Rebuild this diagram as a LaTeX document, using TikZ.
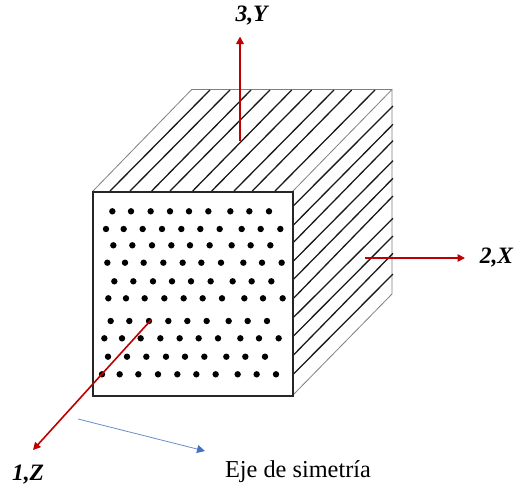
\documentclass[tikz,border=0pt]{standalone}
\usepackage{fontspec}
\setmainfont{Liberation Serif}
\usetikzlibrary{arrows.meta}
\definecolor{axisred}{RGB}{192,0,0}
\definecolor{symblue}{RGB}{68,114,196}
\definecolor{symline}{RGB}{110,140,200}
\tikzset{
  hatch/.style={black!90,line width=1.3pt},
  edgeline/.style={black!50,line width=0.8pt},
  frontface/.style={draw=black!85,line width=2pt},
  axisarrow/.style={axisred,line width=1.6pt,-{Triangle[length=7.5pt,width=7.5pt]}},
  symarrow/.style={symline,line width=0.8pt,-{Triangle[length=8pt,width=8pt,color=symblue]}},
  axislabel/.style={font=\fontsize{23.5}{26}\selectfont\bfseries\itshape,inner sep=0pt,anchor=base},
  plainlabel/.style={font=\fontsize{24.3}{28}\selectfont,inner sep=0pt,anchor=base},
  fibre/.style={fill=black,draw=none,circle,minimum size=6.4pt,inner sep=0pt}
}
\begin{document}
\begin{tikzpicture}[x=1pt,y=-1pt]
\useasboundingbox (0,0) rectangle (514,488);
\fill[white] (0,0) rectangle (514,488);
% cube outline
\coordinate (ftl) at (92.5,191.5);
\coordinate (ftr) at (292.5,191.5);
\coordinate (fbr) at (292.5,395.5);
\coordinate (btl) at (191.7,89.5);
\coordinate (btr) at (392,89.5);
\coordinate (bbr) at (392,294);
\draw[edgeline] (ftl) -- (btl) -- (btr) -- (bbr) -- (fbr);
\draw[edgeline] (ftr) -- (btr);
% top hatch
\foreach \a/\b in {110/210,130/230,151.7/251,170/270,192.7/291.7,211.7/311.7,234/334,252.3/351.7,275/375}{
  \draw[hatch] (\a,191) -- (\b,90);
}
% side hatch
\foreach \a/\b in {205.7/106,225/124.3,242.3/140.7,261/160.7,279.3/178.3,298.3/196,317.3/218.3,336/236,355/253.3,374/274}{
  \draw[hatch] (293.5,\a) -- (393,\b);
}
% front face
\draw[frontface] (ftl) rectangle (fbr);
% fibres
\foreach \yy/\xs in {
 211.3/{82,138,197,255,312,370,436,493,552},
 229/{63,116,173,231,289,346,404,470,527,586},
 245.3/{85,142,201,259,315,374,440,497,556},
 262.7/{67,120,176,235,293,349,408,475,531,590},
 281.3/{88,145,204,261,318,377,443,500,559},
 298.3/{70,123,179,238,296,353,411,478,534,593},
 321/{77,133,192,250,307,365,431,488,546},
 338.3/{58,111,167,226,284,341,399,466,522,581},
 356.7/{69,126,184,243,300,358,424,481,540},
 374.3/{51,104,160,219,277,334,392,458,515,573}}{
  \foreach \xx in \xs {
    \node[fibre] at ({85+\xx/3},\yy) {};
  }
}
% axes
\coordinate (yfrom) at (240,141);
\coordinate (yto) at (240,36.5);
\coordinate (xfrom) at (365,258);
\coordinate (xto) at (465,258);
\coordinate (zfrom) at (151,320);
\coordinate (zto) at (33,450);
\coordinate (sfrom) at (78,419);
\coordinate (sto) at (205,451);
\draw[axisarrow] (yfrom) -- (yto);
\draw[axisarrow] (xfrom) -- (xto);
\draw[axisarrow] (zfrom) -- (zto);
\draw[symarrow] (sfrom) -- (sto);
\node[axislabel] (ylab) at (251.5,21.5) {3,Y};
\node[axislabel] (xlab) at (496.5,263.5) {2,X};
\node[axislabel] (zlab) at (28,480.5) {1,Z};
\node[plainlabel] (slab) at (298,477.3) {Eje de simetría};
\end{tikzpicture}
\end{document}
